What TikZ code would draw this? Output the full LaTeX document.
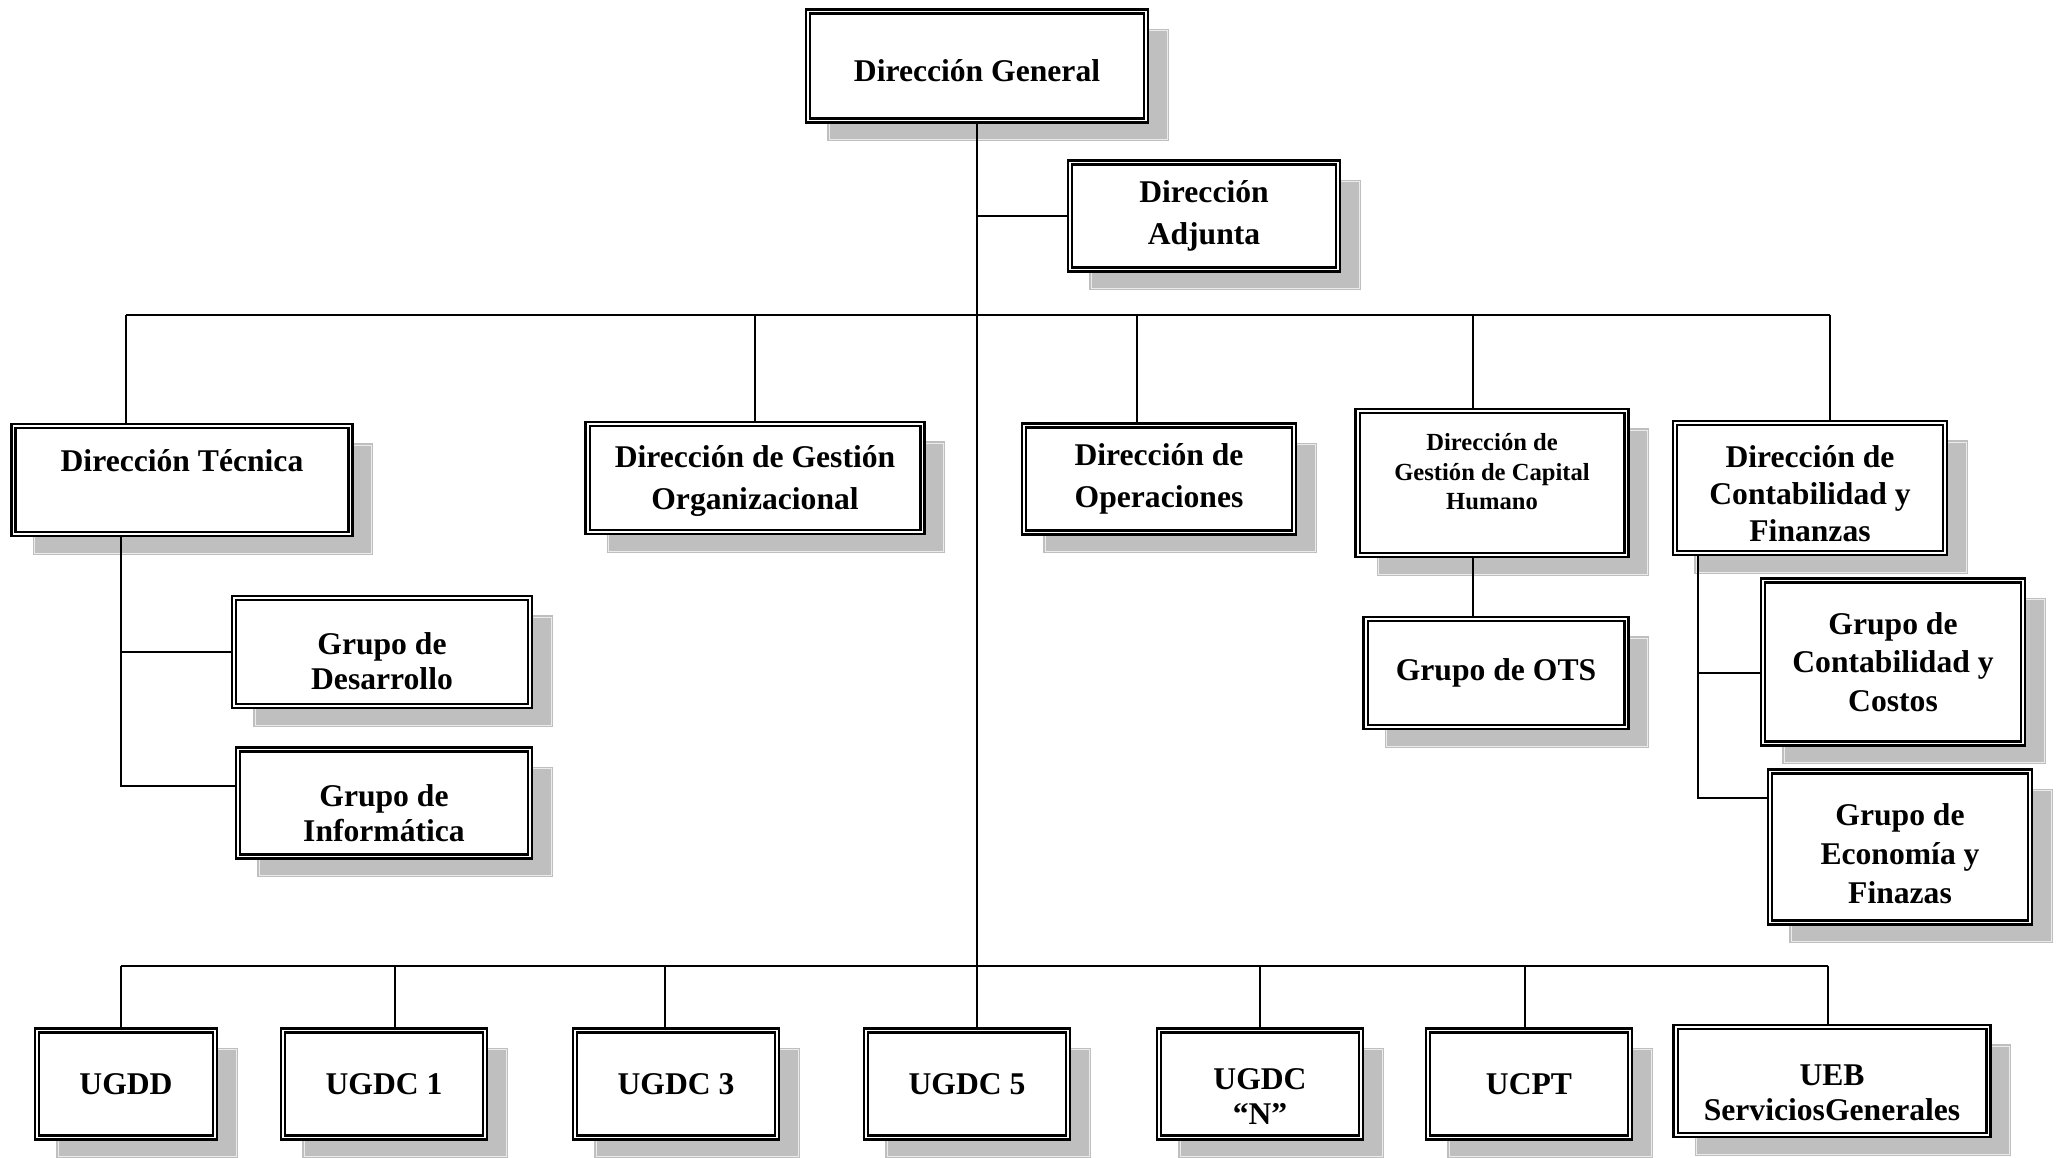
\documentclass[tikz,border=0pt]{standalone}
\usepackage{fontspec}
\setmainfont{Liberation Serif}
\usetikzlibrary{shadows}

\newcommand{\bajar}[1]{\rule{0pt}{#1}}

\begin{document}
\begin{tikzpicture}[x=0.02cm, y=-0.02cm,
    caja/.style={draw, line width=1.3pt, double, double distance=1.1pt, fill=white,
        inner sep=0pt, align=center, font=\bfseries\fontsize{18}{22}\selectfont,
        drop shadow={shadow xshift=0.42cm, shadow yshift=-0.38cm, fill=black!25,
            draw=black!25, double=black!8, line width=0.7pt, double distance=0.5pt, opacity=1}},
    interlinea/.style={font=\bfseries\fontsize{18}{#1}\selectfont},
    linea/.style={line width=0.9pt}]
    \useasboundingbox (0,0) rectangle (2058,1158);

    % direcciones
    \node[caja, minimum width=6.76cm, minimum height=2.18cm] (dg) at (977,66) {\bajar{18pt}Dirección General};
    \node[caja, interlinea=24pt, minimum width=5.36cm, minimum height=2.14cm] (adj) at (1204,216) {Dirección\\Adjunta};
    \node[caja, minimum width=6.74cm, minimum height=2.16cm] (tec) at (182,480) {Dirección Técnica\\~};
    \node[caja, interlinea=24pt, minimum width=6.70cm, minimum height=2.16cm] (go) at (755,478) {\bajar{16pt}Dirección de Gestión\\Organizacional};
    \node[caja, interlinea=24pt, minimum width=5.40cm, minimum height=2.14cm] (op) at (1159,479) {Dirección de\\Operaciones};
    \node[caja, minimum width=5.38cm, minimum height=2.88cm,
        font=\bfseries\fontsize{14}{17}\selectfont] (ch) at (1492,483) {Dirección de\\Gestión de Capital\\Humano\\[-4pt]~};
    \node[caja, interlinea=21pt, minimum width=5.40cm, minimum height=2.60cm] (cf) at (1810,488) {\bajar{19pt}Dirección de\\Contabilidad y\\Finanzas};

    % grupos
    \node[caja, interlinea=20pt, minimum width=5.92cm, minimum height=2.16cm] (des) at (382,652) {\bajar{22.5pt}Grupo de\\Desarrollo};
    \node[caja, interlinea=20pt, minimum width=5.84cm, minimum height=2.14cm] (inf) at (384,803) {\bajar{24pt}Grupo de\\Informática};
    \node[caja, minimum width=5.22cm, minimum height=2.16cm] (ots) at (1496,673) {Grupo de OTS};
    \node[caja, minimum width=5.20cm, minimum height=3.26cm] (cc) at (1893,662) {Grupo de\\Contabilidad y\\Costos};
    \node[caja, minimum width=5.20cm, minimum height=3.02cm] (ef) at (1900,847) {\bajar{20pt}Grupo de\\Economía y\\Finazas};

    % unidades
    \node[caja, minimum width=3.56cm, minimum height=2.14cm] (u1) at (126,1084) {UGDD};
    \node[caja, minimum width=4.04cm, minimum height=2.14cm] (u2) at (384,1084) {UGDC 1};
    \node[caja, minimum width=4.04cm, minimum height=2.14cm] (u3) at (676,1084) {UGDC 3};
    \node[caja, minimum width=4.04cm, minimum height=2.14cm] (u4) at (967,1084) {UGDC 5};
    \node[caja, interlinea=20pt, minimum width=4.04cm, minimum height=2.14cm] (u5) at (1260,1084) {\bajar{26pt}UGDC\\“N”};
    \node[caja, minimum width=4.04cm, minimum height=2.14cm] (u6) at (1529,1084) {UCPT};
    \node[caja, interlinea=20pt, minimum width=6.26cm, minimum height=2.16cm] (u7) at (1832,1081) {\bajar{25pt}UEB\\ServiciosGenerales};

    % barras
    \coordinate (barraA1) at (126,315);
    \coordinate (barraA2) at (755,315);
    \coordinate (barraA3) at (1137,315);
    \coordinate (barraA4) at (1473,315);
    \coordinate (barraA5) at (1830,315);
    \coordinate (barraB1) at (121,966);
    \coordinate (barraB2) at (395,966);
    \coordinate (barraB3) at (665,966);
    \coordinate (barraB4) at (977,966);
    \coordinate (barraB5) at (1260,966);
    \coordinate (barraB6) at (1525,966);
    \coordinate (barraB7) at (1828,966);
    \coordinate (rama1) at (121,786);
    \coordinate (rama2) at (1698,798);
    \coordinate (rama3) at (1698,673);

    \draw[linea] (dg.south) -- (barraB4);
    \draw[linea] (adj.west) -- (adj.west -| dg.south);

    \draw[linea] (barraA1) -- (barraA5);
    \draw[linea] (barraA1) -- (barraA1 |- tec.north);
    \draw[linea] (barraA2) -- (barraA2 |- go.north);
    \draw[linea] (barraA3) -- (barraA3 |- op.north);
    \draw[linea] (barraA4) -- (barraA4 |- ch.north);
    \draw[linea] (barraA5) -- (barraA5 |- cf.north);

    \draw[linea] (rama1 |- tec.south) -- (rama1) -- (rama1 -| inf.west);
    \draw[linea] (des.west) -- (des.west -| rama1);
    \draw[linea] (barraA4 |- ch.south) -- (barraA4 |- ots.north);
    \draw[linea] (rama2 |- cf.south) -- (rama2) -- (rama2 -| ef.west);
    \draw[linea] (rama3) -- (rama3 -| cc.west);

    \draw[linea] (barraB1) -- (barraB7);
    \draw[linea] (barraB1) -- (barraB1 |- u1.north);
    \draw[linea] (barraB2) -- (barraB2 |- u2.north);
    \draw[linea] (barraB3) -- (barraB3 |- u3.north);
    \draw[linea] (barraB4) -- (barraB4 |- u4.north);
    \draw[linea] (barraB5) -- (barraB5 |- u5.north);
    \draw[linea] (barraB6) -- (barraB6 |- u6.north);
    \draw[linea] (barraB7) -- (barraB7 |- u7.north);
\end{tikzpicture}
\end{document}
